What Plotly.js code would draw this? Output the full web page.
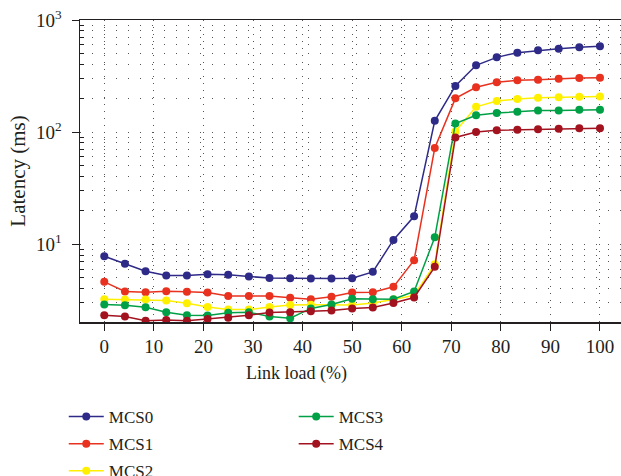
<!DOCTYPE html>
<html>
<head>
<meta charset="utf-8">
<script src="https://cdn.plot.ly/plotly-3.0.1.min.js"></script>
<style>html,body{margin:0;padding:0;background:#fff;}#chart{width:621px;height:476px;}</style>
</head>
<body>
<div id="chart"></div>
<script>
var linkLoad = [0, 4.17, 8.33, 12.5, 16.67, 20.83, 25, 29.17, 33.33, 37.5, 41.67, 45.83, 50, 54.17, 58.33, 62.5, 66.67, 70.83, 75, 79.17, 83.33, 87.5, 91.67, 95.83, 100];
var seriesNames = ['MCS0', 'MCS1', 'MCS2', 'MCS3', 'MCS4'];
var mcs0 = [7.8, 6.7, 5.74, 5.25, 5.25, 5.4, 5.33, 5.14, 5.0, 4.97, 4.93, 4.93, 4.97, 5.66, 10.9, 17.7, 126, 258, 394, 464, 511, 536, 554, 570, 582];
var mcs1 = [4.61, 3.78, 3.73, 3.8, 3.76, 3.71, 3.45, 3.45, 3.45, 3.32, 3.23, 3.39, 3.71, 3.73, 4.16, 7.2, 72, 200, 251, 278, 290, 293, 299, 303, 305];
var mcs2 = [3.23, 3.2, 3.2, 3.14, 2.97, 2.75, 2.61, 2.61, 2.75, 2.87, 2.88, 2.87, 2.87, 2.99, 3.2, 3.5, 6.6, 101, 168, 189, 197, 202, 205, 207, 208];
var mcs3 = [2.89, 2.85, 2.74, 2.47, 2.32, 2.31, 2.44, 2.47, 2.26, 2.18, 2.67, 2.89, 3.25, 3.22, 3.22, 3.78, 11.5, 119, 141, 148, 152, 156, 156, 158, 158];
var mcs4 = [2.32, 2.26, 2.07, 2.1, 2.07, 2.15, 2.2, 2.32, 2.45, 2.47, 2.52, 2.56, 2.67, 2.72, 2.99, 3.34, 6.27, 89.6, 100, 104, 105, 106, 107, 108, 108];
var xTicks = [0, 10, 20, 30, 40, 50, 60, 70, 80, 90, 100];
var yTickVals = [10, 100, 1000];
var yTickText = ['10<sup>1</sup>', '10<sup>2</sup>', '10<sup>3</sup>'];
var yMinorVals = [2,3,4,5,6,7,8,9,20,30,40,50,60,70,80,90,200,300,400,500,600,700,800,900];

var allSeries = [mcs0, mcs1, mcs2, mcs3, mcs4];
var colors = ['#2e2a87', '#e8321f', '#fff000', '#00a046', '#a3131f'];
var legendIds = ['legend', 'legend', 'legend', 'legend2', 'legend2'];

var traces = allSeries.map(function (ys, i) {
  return {
    x: linkLoad, y: ys, name: seriesNames[i], type: 'scatter', mode: 'lines+markers',
    line: {color: colors[i], width: 1.5},
    marker: {color: colors[i], size: 8},
    legend: legendIds[i], legendgroup: seriesNames[i]
  };
});

var serif = 'Liberation Serif, Times New Roman, serif';
var ink = '#231f20';
var layout = {
  width: 621, height: 476,
  margin: {l: 80, r: 0, t: 20, b: 154, autoexpand: false},
  paper_bgcolor: '#fff', plot_bgcolor: '#fff',
  font: {family: serif, size: 18, color: ink},
  showlegend: true,
  xaxis: {
    range: [-4.9, 104.24], tickvals: xTicks, ticks: 'outside', ticklen: 7, tickcolor: ink,
    showline: true, linecolor: ink, linewidth: 1.5, mirror: true,
    showgrid: true, gridcolor: '#555', gridwidth: 1, griddash: '1px,6px',
    zeroline: false, tickfont: {family: serif, size: 19, color: ink}
  },
  yaxis: {
    type: 'log', range: [Math.log10(2.02), 3], tickvals: yTickVals, ticktext: yTickText,
    ticks: 'outside', ticklen: 7, tickcolor: ink, ticklabelstandoff: 6,
    showline: true, linecolor: ink, linewidth: 1.5,
    showgrid: true, gridcolor: '#555', gridwidth: 1, griddash: '1px,11px',
    minor: {tickvals: yMinorVals, ticks: 'inside', ticklen: 4, tickcolor: ink, showgrid: true, gridcolor: '#555', gridwidth: 1, griddash: '1px,11px'},
    zeroline: false, tickfont: {family: serif, size: 19, color: ink},
    title: {text: 'Latency (ms)', font: {family: serif, size: 21, color: ink}, standoff: 4}
  },
  legend: {x: -0.03, y: -0.255, xanchor: 'left', yanchor: 'top', orientation: 'v', tracegroupgap: 2,
    font: {family: serif, size: 17, color: ink}, bgcolor: 'rgba(0,0,0,0)', itemwidth: 35},
  legend2: {x: 0.395, y: -0.255, xanchor: 'left', yanchor: 'top', orientation: 'v', tracegroupgap: 2,
    font: {family: serif, size: 17, color: ink}, bgcolor: 'rgba(0,0,0,0)', itemwidth: 35},
  annotations: [{
    text: 'Link load (%)', xref: 'paper', yref: 'paper', x: (296 - 80) / 541, y: -(373 - 322) / 302,
    xanchor: 'center', yanchor: 'middle', showarrow: false, font: {family: serif, size: 18, color: ink}
  }]
};

Plotly.newPlot('chart', traces, layout, {displayModeBar: false, staticPlot: true});
</script>
</body>
</html>
